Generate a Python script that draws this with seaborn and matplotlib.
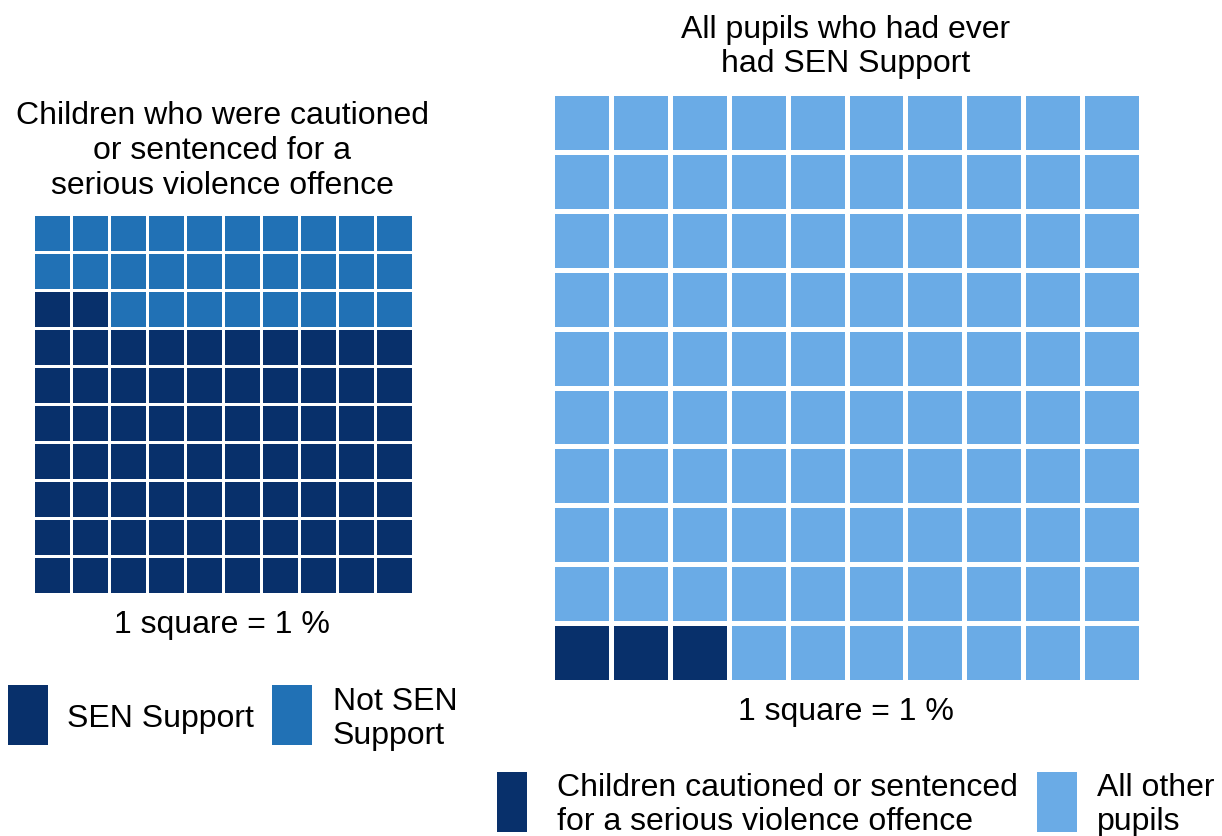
import numpy as np
import matplotlib
matplotlib.use('Agg')
import matplotlib.pyplot as plt
from matplotlib.colors import ListedColormap
from matplotlib.patches import Rectangle
import seaborn as sns

sns.set_theme(style='white')
plt.rcParams['font.family'] = ['Liberation Sans', 'DejaVu Sans']

# ── data ─────────────────────────────────────────────
left_labels = ['SEN Support', 'Not SEN\nSupport']
left_counts = [72, 28]
left_colors = ['#08306b', '#2171b5']
left_title = 'Children who were cautioned\nor sentenced for a\nserious violence offence'

right_labels = ['Children cautioned or sentenced\nfor a serious violence offence', 'All other\npupils']
right_counts = [3, 97]
right_colors = ['#08306b', '#6aabe6']
right_title = 'All pupils who had ever\nhad SEN Support'

unit_note = '1 square = 1 %'

W, H = 1222, 836
FS = 23
fig = plt.figure(figsize=(W / 100, H / 100), dpi=100)


def px_axes(x0, y0, x1, y1):
    # pixel box (top-left origin) -> figure axes
    return fig.add_axes([x0 / W, 1 - y1 / H, (x1 - x0) / W, (y1 - y0) / H])


def waffle_grid(counts, rows=10, cols=10):
    # fill from the bottom-left, left to right, row by row upwards
    flat = np.repeat(np.arange(len(counts)), counts)
    grid = flat.reshape(rows, cols)
    return grid[::-1]


def draw_waffle(box, counts, colors, lw):
    ax = px_axes(*box)
    sns.heatmap(waffle_grid(counts), ax=ax, cmap=ListedColormap(colors),
                vmin=-0.5, vmax=len(colors) - 0.5, cbar=False,
                linewidths=lw, linecolor='white', square=False,
                xticklabels=False, yticklabels=False)
    ax.set_axis_off()
    return ax


def ftext(x, y, s, **kw):
    # +3 px: matplotlib centres on the full box incl. descenders
    fig.text(x / W, 1 - (y + 3) / H, s, fontsize=FS, color='black', **kw)


def legend_box(x0, y0, x1, y1, color):
    fig.add_artist(Rectangle((x0 / W, 1 - y1 / H), (x1 - x0) / W, (y1 - y0) / H,
                             transform=fig.transFigure, color=color, lw=0))


# left waffle
draw_waffle((33, 214, 413, 594), left_counts, left_colors, 2.0)
ftext(222, 148, left_title, ha='center', va='center', linespacing=1.2)
ftext(222, 622, unit_note, ha='center', va='center')
legend_box(8, 685, 48, 745, left_colors[0])
ftext(67, 716, left_labels[0], ha='left', va='center')
legend_box(272, 685, 312, 745, left_colors[1])
ftext(333, 716, left_labels[1], ha='left', va='center', linespacing=1.15)

# right waffle
draw_waffle((552, 93, 1141, 682), right_counts, right_colors, 2.2)
ftext(846, 44, right_title, ha='center', va='center', linespacing=1.2)
ftext(846, 709, unit_note, ha='center', va='center')
legend_box(497, 772, 527, 832, right_colors[0])
ftext(557, 802, right_labels[0], ha='left', va='center', linespacing=1.2)
legend_box(1037, 772, 1077, 832, right_colors[1])
ftext(1097, 802, right_labels[1], ha='left', va='center', linespacing=1.2)

plt.savefig('out.png', dpi=100, facecolor='white')
plt.close()
